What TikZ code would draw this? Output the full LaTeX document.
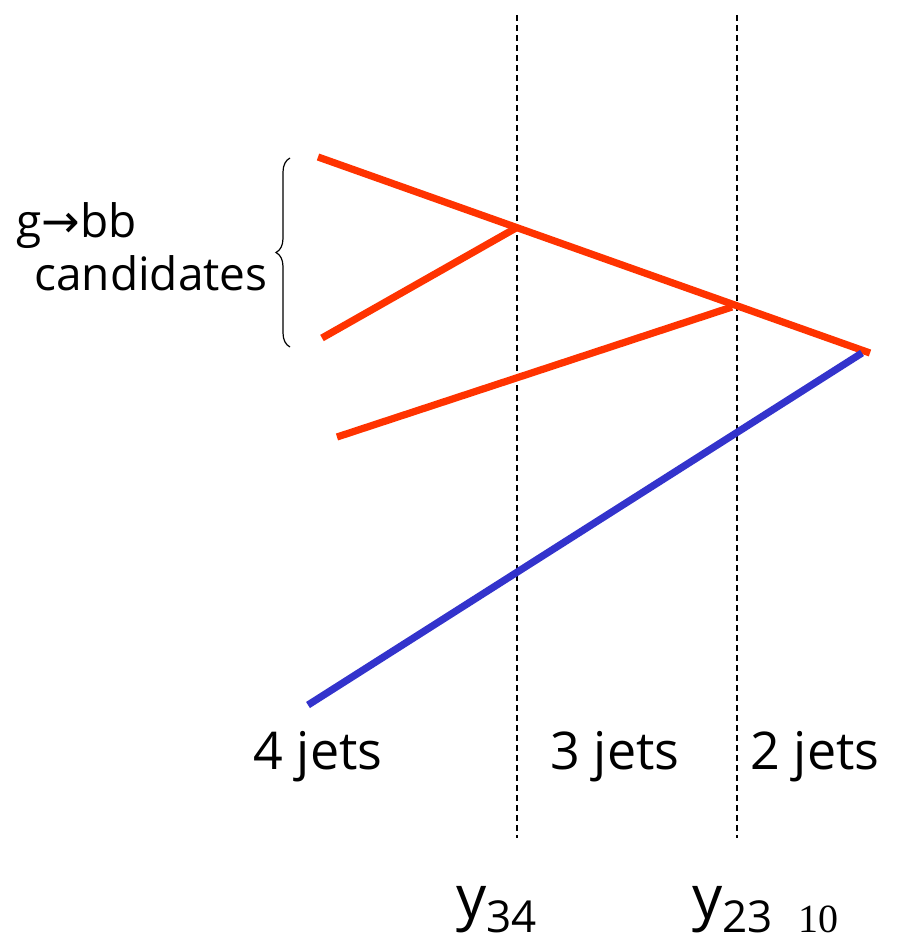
\documentclass[tikz,border=0pt]{standalone}
\usepackage{fontspec}
\setmainfont{Open Sans}
\newfontfamily\dejavu{DejaVu Sans}
\newfontfamily\pageserif{Liberation Serif}
\usetikzlibrary{decorations.pathreplacing}
\definecolor{lred}{HTML}{FF3300}
\definecolor{lblue}{HTML}{3333CC}
\tikzset{
  redline/.style={draw=lred,line width=3.6pt},
  blueline/.style={draw=lblue,line width=3.6pt},
  divider/.style={draw=black,dashed,line width=0.6pt,dash pattern=on 3pt off 2pt},
  lab/.style={font=\fontsize{23}{27}\selectfont,inner sep=0pt},
  jlab/.style={font=\fontsize{26}{30}\selectfont,inner sep=0pt},
  ylab/.style={font=\fontsize{30}{34}\selectfont,inner sep=0pt}
}
\begin{document}
\begin{tikzpicture}[x=0.5pt,y=-0.5pt]
\useasboundingbox (0,0) rectangle (903,942);
\coordinate (a1) at (318,157);
\coordinate (apex) at (870,353);
\coordinate (b1) at (322,338);
\coordinate (b2) at (516,228);
\coordinate (c1) at (337,437);
\coordinate (c2) at (732,307);
\coordinate (d1) at (308,705);
\coordinate (d2) at (862,353);
\coordinate (v1t) at (517,15);
\coordinate (v1b) at (517,838);
\coordinate (v2t) at (737,15);
\coordinate (v2b) at (737,838);
\coordinate (brt) at (290,158);
\coordinate (brb) at (290,347);
\draw[divider] (v1t) -- (v1b);
\draw[divider] (v2t) -- (v2b);
\draw[redline] (a1) -- (apex);
\draw[redline] (b1) -- (b2);
\draw[redline] (c1) -- (c2);
\draw[blueline] (d1) -- (d2);
\draw[line width=0.6pt,decorate,decoration={brace,amplitude=7pt}] (brb) -- (brt);
\node[lab,anchor=west] (g) at (16,226) {g{\dejavu →}bb};
\node[lab,anchor=west] (cand) at (34,273) {candidates};
\node[jlab] (j4) at (318,757) {4 jets};
\node[jlab] (j3) at (615,757) {3 jets};
\node[jlab] (j2) at (815,757) {2 jets};
\node[ylab,anchor=base] (y34) at (497,918) {y\textsubscript{\fontsize{22}{24}\selectfont 34}};
\node[ylab,anchor=base] (y23) at (733,918) {y\textsubscript{\fontsize{22}{24}\selectfont 23}};
\node[anchor=base,inner sep=0pt,font=\pageserif\fontsize{20}{22}\selectfont] (pg) at (818,932) {10};
\end{tikzpicture}
\end{document}
